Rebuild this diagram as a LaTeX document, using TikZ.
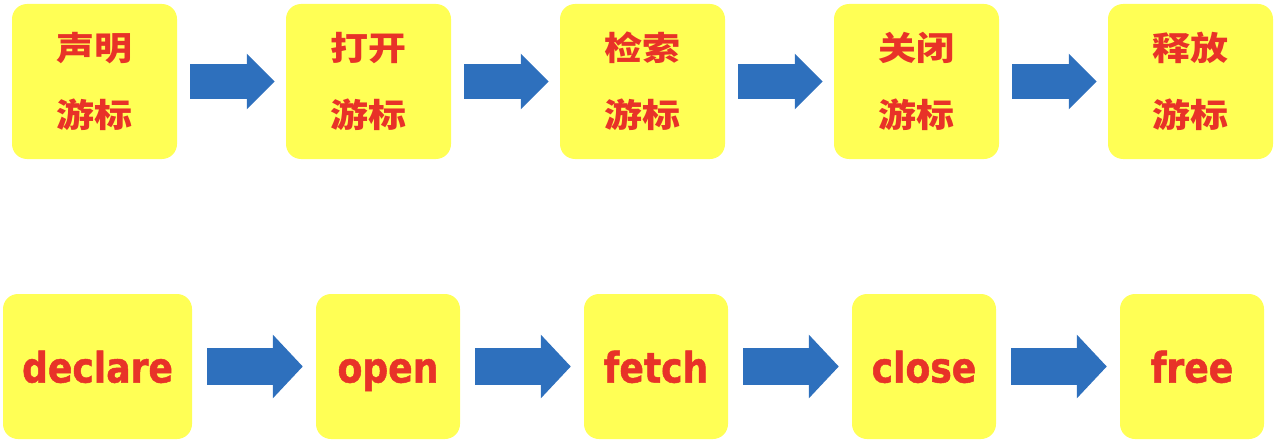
\documentclass[tikz,border=0pt]{standalone}
\usepackage{fontspec}
\usepackage{tikz}
\usetikzlibrary{arrows.meta,positioning}

\newfontfamily\cjk{Noto Sans CJK SC}[FakeStretch=1.15]
\newfontfamily\latin{DejaVu Sans}[FakeStretch=0.86, FakeBold=1.2]

\definecolor{boxyellow}{RGB}{255,255,85}
\definecolor{textred}{RGB}{232,50,40}
\definecolor{flowblue}{RGB}{46,112,189}

\begin{document}
\begin{tikzpicture}[x=1pt, y=-1pt,
    stepbox/.style={fill=boxyellow, rounded corners=15pt, inner sep=0pt,
      text=textred, align=center},
    cnbox/.style={stepbox, minimum width=165pt, minimum height=155pt,
      font={\cjk\bfseries\fontsize{33}{67}\selectfont}},
    enbox/.style={stepbox, minimum height=145pt, text height=32pt, text depth=0pt,
      font={\latin\bfseries\fontsize{42}{48}\selectfont}},
    flowtop/.style={flowblue, line width=34pt, shorten <=13pt, shorten >=11pt,
      -{Triangle[length=28pt, width=54pt]}},
    flowbot/.style={flowblue, line width=37pt, shorten <=15pt, shorten >=13pt,
      -{Triangle[length=30pt, width=62pt]}}]
  \useasboundingbox (0,0) rectangle (1274,444);

  % Top row: the steps in Chinese.
  \foreach \i/\x/\w in {1/94.5/声明, 2/368.5/打开, 3/642.5/检索, 4/916.5/关闭, 5/1190.5/释放}{
    \node[cnbox] (c\i) at (\x,81.5) {\w\\游标};
  }

  % Bottom row: the same steps by keyword.
  \node[enbox, minimum width=189pt] (e1) at (97.5,366.5) {declare};
  \foreach \i/\x/\w in {2/388/open, 3/656/fetch, 4/924/close, 5/1192/free}{
    \node[enbox, minimum width=144pt] (e\i) at (\x,366.5) {\w};
  }

  % Block arrows between neighbouring steps.
  \foreach \i in {1,...,4}{
    \pgfmathtruncatemacro\j{\i+1}
    \draw[flowtop] (c\i) -- (c\j);
    \draw[flowbot] (e\i) -- (e\j);
  }
\end{tikzpicture}
\end{document}
